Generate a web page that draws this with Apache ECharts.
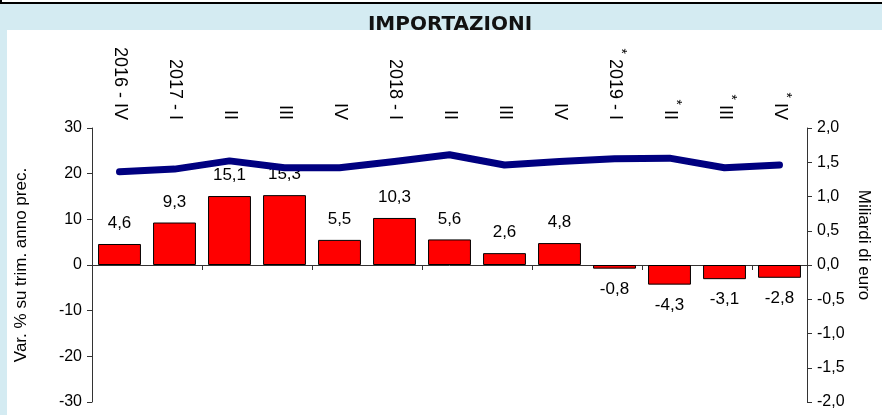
<!DOCTYPE html>
<html>
<head>
<meta charset="utf-8">
<script src="https://cdn.jsdelivr.net/npm/echarts@6/dist/echarts.min.js"></script>
<style>
  html, body { margin: 0; padding: 0; background: #d4ebf2; }
  #chart { width: 882px; height: 415px; }
</style>
</head>
<body>
<div id="chart"></div>
<script>
// Importazioni: var. % su trim. anno prec. (barre) e miliardi di euro (linea)
const quarters = ["2016 - IV", "2017 - I", "II", "III", "IV", "2018 - I", "II", "III", "IV", "2019 - I", "II", "III", "IV"];
const provisional = [false, false, false, false, false, false, false, false, false, true, true, true, true];
const varPct = [4.6, 9.3, 15.1, 15.3, 5.5, 10.3, 5.6, 2.6, 4.8, -0.8, -4.3, -3.1, -2.8];
const miliardi = [1.36, 1.40, 1.52, 1.42, 1.42, 1.51, 1.61, 1.46, 1.51, 1.55, 1.56, 1.42, 1.46];

const FONT = "Liberation Sans, Arial, sans-serif";
const comma = (v, d) => v.toFixed(d).replace(".", ",");

const chart = echarts.init(document.getElementById("chart"), null, { renderer: "canvas" });

chart.setOption({
    backgroundColor: "#d4ebf2",
    animation: false,
    textStyle: { fontFamily: FONT, color: "#000" },
    graphic: [
        { type: "rect", shape: { x: 7, y: 30, width: 875, height: 385 }, style: { fill: "#fff" }, z: -10 },
        { type: "rect", shape: { x: 0, y: 0, width: 882, height: 3 }, style: { fill: "#fff" }, z: -10 },
        { type: "line", shape: { x1: 0, y1: 3, x2: 882, y2: 3 }, style: { stroke: "#000", lineWidth: 2 }, z: -9 },
        { type: "line", shape: { x1: 1, y1: 0, x2: 1, y2: 3 }, style: { stroke: "#000", lineWidth: 2 }, z: -9 }
    ],
    title: {
        text: "IMPORTAZIONI",
        left: 445,
        textAlign: "center",
        top: 10,
        textStyle: { fontFamily: "DejaVu Sans", fontWeight: "bold", fontSize: 20, color: "#111" }
    },
    grid: { left: 92, right: 75, top: 128, bottom: 13 },
    xAxis: [
        {
            type: "category",
            data: quarters,
            position: "bottom",
            axisLine: { onZero: true, lineStyle: { color: "#333", width: 1 } },
            axisTick: { show: true, length: 5, lineStyle: { color: "#333" } },
            axisLabel: { show: false }
        },
        {
            type: "category",
            data: quarters,
            position: "top",
            axisLine: { show: false, onZero: false },
            axisTick: { show: false },
            axisLabel: {
                rotate: 90,
                margin: 8,
                interval: 0,
                fontSize: 18,
                color: "#000",
                formatter: (v, i) => (provisional[i] ? "{s|*} " : "") + "{t|" + v + "}",
                rich: {
                    t: { fontSize: 18, fontFamily: FONT, color: "#000" },
                    s: { fontSize: 14, fontFamily: FONT, color: "#000", padding: [0, 0, 12, 0] }
                }
            }
        }
    ],
    yAxis: [
        {
            type: "value",
            min: -30, max: 30, interval: 10,
            position: "left",
            name: "Var. % su trim. anno prec.",
            nameLocation: "middle",
            nameRotate: 90,
            nameGap: 62,
            nameTextStyle: { fontSize: 17, color: "#000" },
            axisLine: { show: true, lineStyle: { color: "#333" } },
            axisTick: { show: true, length: 5, lineStyle: { color: "#333" } },
            splitLine: { show: false },
            axisLabel: { fontSize: 16, color: "#000", margin: 10 }
        },
        {
            type: "value",
            min: -2, max: 2, interval: 0.5,
            position: "right",
            name: "Miliardi di euro",
            nameLocation: "middle",
            nameRotate: -90,
            nameGap: 24,
            nameTextStyle: { fontSize: 17, color: "#000", padding: [0, 40, 0, 0] },
            axisLine: { show: true, lineStyle: { color: "#333" } },
            axisTick: { show: true, length: 5, lineStyle: { color: "#333" } },
            splitLine: { show: false },
            axisLabel: { fontSize: 16, color: "#000", margin: 10, formatter: v => comma(v, 1) }
        }
    ],
    series: [
        {
            type: "bar",
            xAxisIndex: 0,
            yAxisIndex: 0,
            barCategoryGap: "22%",
            itemStyle: { color: "#ff0000", borderColor: "#000", borderWidth: 1 },
            label: {
                show: true,
                distance: 12,
                fontSize: 17,
                color: "#000",
                formatter: p => comma(p.value, 1)
            },
            data: varPct.map(v => ({ value: v, label: { position: v < 0 ? "bottom" : "top" } })),
            z: 2
        },
        {
            type: "line",
            xAxisIndex: 0,
            yAxisIndex: 1,
            data: miliardi,
            symbol: "none",
            lineStyle: { color: "#000080", width: 7, cap: "round", join: "round" },
            z: 3
        }
    ]
});
</script>
</body>
</html>
